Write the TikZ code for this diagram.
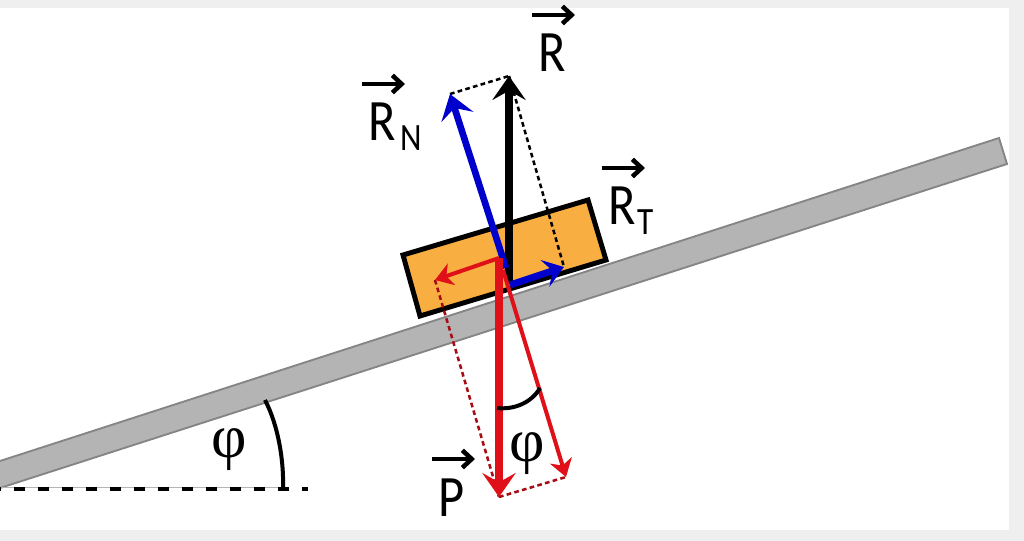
\documentclass[tikz,border=0pt]{standalone}
\usepackage{fontspec}
\setmainfont{Carlito}
\newfontfamily\labelfont[FakeStretch=0.86]{Carlito}
\newfontfamily\phifont{Liberation Serif}
\usetikzlibrary{arrows.meta}

\definecolor{pagegrey}{HTML}{EFEFEF}
\definecolor{plankfill}{HTML}{B4B4B4}
\definecolor{plankline}{HTML}{858585}
\definecolor{blockfill}{HTML}{F9AE42}
\definecolor{forceblue}{HTML}{0000CC}
\definecolor{forcered}{HTML}{E01018}

\begin{document}
\begin{tikzpicture}[x=0.75pt,y=-0.75pt,
label/.style={inner sep=0pt,anchor=base west,font=\fontsize{44}{44}\selectfont\labelfont},
angle/.style={inner sep=0pt,font=\fontsize{46}{46}\selectfont\phifont},
force/.style={line width=#1,-{Stealth[length=18pt,width=25pt,inset=7pt]}},
thinforce/.style={line width=#1,-{Stealth[length=13pt,width=17pt,inset=4pt]}},
guide/.style={line width=1.9pt,dash pattern=on 3.5pt off 2.5pt},
vecbar/.style={line width=3.4pt,-{Straight Barb[length=7pt,width=13pt]}}]

\fill[pagegrey] (0,0) rectangle (1024,541);
\useasboundingbox (0,0) rectangle (1024,541);
\fill[white] (0,8) rectangle (1009,530);

% plank and block
\draw[fill=plankfill,draw=plankline,line width=1.4pt] (0,461) -- (999,138) -- (1007,164) -- (0,488);
\draw[fill=blockfill,line width=3.7pt,line join=miter] (403,255) -- (588,200) -- (606,260) -- (420,316) -- cycle;

\coordinate (o) at (509,284);
\coordinate (Rtip) at (509,76);
\coordinate (RNbase) at (506,268);
\coordinate (RNtip) at (450,94);
\coordinate (RTbase) at (510,285);
\coordinate (RTtip) at (564,267);
\coordinate (Pbase) at (499,258);
\coordinate (Ptip) at (499,497);
\coordinate (Ftip) at (435,280);
\coordinate (Gbase) at (503,270);
\coordinate (Gtip) at (566,477);

% dotted construction lines
\draw[guide] (RNtip) -- (Rtip);
\draw[guide] (Rtip) -- (RTtip);
\draw[guide,forcered!75!black] (Ftip) -- (Ptip);
\draw[guide,forcered!75!black] (Ptip) -- (Gtip);

% forces
\draw[force=5.5pt] (o) -- (Rtip);
\draw[force=5pt,forceblue] (RNbase) -- (RNtip);
\draw[force=5.2pt,forceblue,-{Stealth[length=15pt,width=21pt,inset=6pt]}] (RTbase) -- (RTtip);
\draw[thinforce=3pt,forcered] (Pbase) -- (Ftip);
\draw[thinforce=3pt,forcered] (Gbase) -- (Gtip);
\draw[force=5.4pt,forcered] (Pbase) -- (Ptip);

% angles
\coordinate (a1) at (265,400);
\coordinate (a2) at (283,489);
\coordinate (b1) at (497,408);
\coordinate (b2) at (540,388);
\coordinate (h1) at (0,489);
\coordinate (h2) at (308,489);
\draw[plankfill,line width=0.8pt] ([yshift=1pt]h1) -- ([yshift=1pt]a2);
\draw[line width=2.3pt,dash pattern=on 8pt off 10pt,dash phase=7.5pt] (h1) -- (h2);
\draw[line width=3pt] (a1) .. controls (278,425) and (284,460) .. (a2);
\draw[line width=3pt] (b1) .. controls (515,410) and (532,402) .. (b2);

\node[angle] (phi1) at (229,450) {φ};
\node[angle] (phi2) at (527,454) {φ};

% labels
\node[label] (R) at (538,72) {R};
\node[label] (RN) at (368,141) {R\kern 4pt\raisebox{-7.5pt}{\fontsize{29}{29}\selectfont N}};
\node[label] (RT) at (608,225) {R\kern 1.5pt\raisebox{-7pt}{\fontsize{29}{29}\selectfont T}};
\node[label] (P) at (438,516) {P};

\foreach \n in {R,RN,RT,P}{
\draw[vecbar] ([shift={(-6,-57)}]\n.base west) -- ([shift={(37,-57)}]\n.base west);
}

\end{tikzpicture}
\end{document}
